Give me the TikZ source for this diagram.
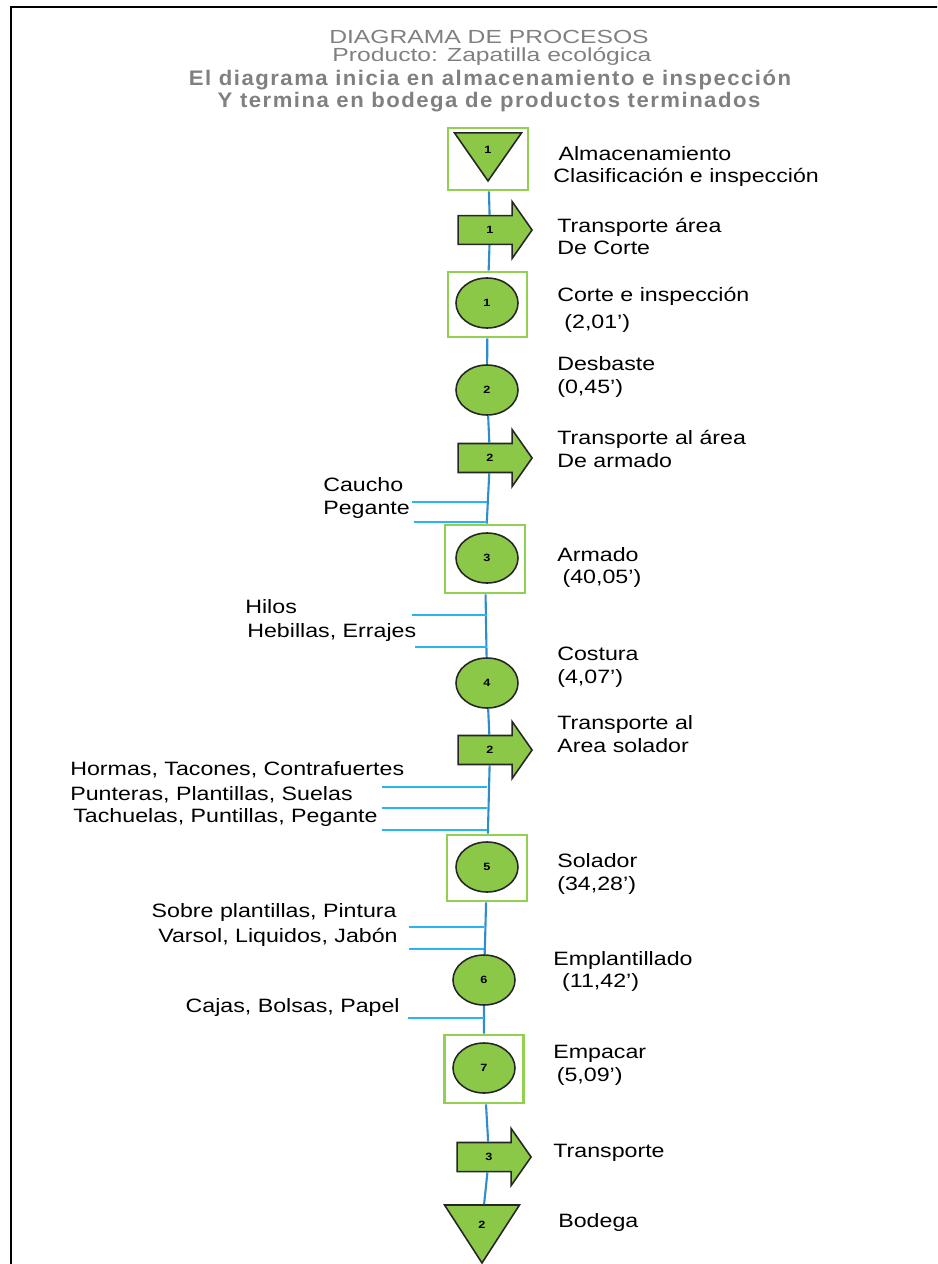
\documentclass[tikz,border=0pt]{standalone}
\usepackage{fontspec}
\setmainfont[FakeStretch = 1.2]{Liberation Sans}
\newfontfamily\titlefont[FakeStretch = 1.3]{Liberation Sans}
\newfontfamily\titlewide[FakeStretch = 1.05, LetterSpace = 7]{Liberation Sans}
\usetikzlibrary{shapes.geometric, shapes.arrows}

\definecolor{boxgreen}{RGB}{146, 208, 80}
\definecolor{shapegreen}{RGB}{140, 200, 72}
\definecolor{spineblue}{RGB}{48, 140, 205}
\definecolor{supplyblue}{RGB}{40, 180, 240}
\definecolor{titlegray}{RGB}{128, 128, 128}

\begin{document}
\begin{tikzpicture}[x = 0.02cm, y = -0.02cm,
	every node/.style = {font = \fontsize{11}{13}\selectfont},
	framebox/.style = {draw = boxgreen, line width = 1.5pt, inner sep = 0},
	oper/.style = {ellipse, draw = black!85, fill = shapegreen, line width = 0.9pt, minimum width = 1.24cm, minimum height = 1cm, inner sep = 0, font = \fontsize{6}{6}\selectfont\bfseries},
	transp/.style = {single arrow, draw = black!85, fill = shapegreen, line width = 0.9pt, minimum height = 1.48cm, inner xsep = 0, inner ysep = 0.2cm, single arrow head extend = 0.28cm, single arrow tip angle = 110, font = \fontsize{6}{6}\selectfont\bfseries},
	store/.style = {isosceles triangle, isosceles triangle stretches, shape border rotate = 270, draw = black!85, fill = shapegreen, line width = 0.9pt, minimum width = 1.34cm, minimum height = 0.96cm, inner sep = 0, font = \fontsize{6}{6}\selectfont\bfseries},
	spine/.style = {spineblue, line width = 1.2pt},
	supply/.style = {supplyblue, line width = 1.4pt},
	desc/.style = {anchor = west, align = left, inner sep = 0},
	mat/.style = {anchor = west, inner sep = 0}]
	 \useasboundingbox (0, 0) rectangle (937, 1264);
	 \clip (0, 0) rectangle (937, 1264);
	 \draw[line width = 1.6pt] (11, 7) rectangle (990, 1300);
	 
	 % titulo
	 \node[titlegray] (tit1) at (489, 37) {\titlefont\fontsize{10.8}{12}\selectfont DIAGRAMA DE PROCESOS};
	 \node[titlegray] (tit2) at (492, 56) {\titlefont\fontsize{10.8}{12}\selectfont Producto: Zapatilla ecológica};
	 \node[titlegray] (tit3) at (490, 80) {\titlewide\bfseries\fontsize{12}{14}\selectfont El diagrama inicia en almacenamiento e inspección};
	 \node[titlegray] (tit4) at (489, 102) {\titlewide\bfseries\fontsize{12}{14}\selectfont Y termina en bodega de productos terminados};
	 
	 % simbolos
	 \node[framebox, minimum width = 1.6cm, minimum height = 1.24cm] (alm1box) at (488, 159) {};
	 \node[store, anchor = apex] (alm1) at (488, 183) {1};
	 \node[transp] (tr1) at (490, 230) {1};
	 \node[framebox, minimum width = 1.58cm, minimum height = 1.3cm] (op1box) at (487.5, 304.5) {};
	 \node[oper] (op1) at (487, 303) {1};
	 \node[oper] (op2) at (487, 390) {2};
	 \node[transp] (tr2) at (490, 458) {2};
	 \node[framebox, minimum width = 1.6cm, minimum height = 1.36cm] (op3box) at (485, 559) {};
	 \node[oper] (op3) at (487, 558) {3};
	 \node[oper] (op4) at (487, 683) {4};
	 \node[transp] (tr4) at (490, 750) {2};
	 \node[framebox, minimum width = 1.6cm, minimum height = 1.32cm] (op5box) at (487, 868) {};
	 \node[oper] (op5) at (487, 867) {5};
	 \node[oper] (op6) at (484, 980) {6};
	 \node[framebox, minimum width = 1.58cm, minimum height = 1.36cm] (op7box) at (484, 1069) {};
	 \node[oper] (op7) at (484, 1068) {7};
	 \node[transp] (tr3) at (489, 1157) {3};
	 \node[store, minimum width = 1.5cm, minimum height = 1.16cm, anchor = apex] (alm2) at (482, 1265) {2};
	 
	 \draw[spine] (alm1box) -- (tr1) -- (op1box) -- (op2) -- (tr2) -- (op3box) -- (op4) -- (tr4) -- (op5box) -- (op6) -- (op7box) -- (tr3) -- (alm2);
	 
	 % descripciones
	 \node[desc] (d1) at (553, 166.5) {\hspace{3pt}Almacenamiento\\Clasificación e inspección};
	 \node[desc] (d2) at (557, 236.5) {Transporte área\\De Corte};
	 \node[desc] (d3) at (557, 310) {Corte e inspección\\[2pt]\hspace{4pt}(2,01')};
	 \node[desc] (d4) at (557, 377) {Desbaste\\(0,45')};
	 \node[desc] (d5) at (557, 449) {Transporte al área\\De armado};
	 \node[desc] (d6) at (557, 567.5) {Armado\\\hspace{3pt}(40,05')};
	 \node[desc] (d7) at (557, 667) {Costura\\(4,07')};
	 \node[desc] (d8) at (557, 734) {Transporte al\\Area solador};
	 \node[desc] (d9) at (557, 874) {Solador\\(34,28')};
	 \node[desc] (d10) at (553, 971.5) {Emplantillado\\\hspace{5pt}(11,42')};
	 \node[desc] (d11) at (553, 1065.5) {Empacar\\\hspace{2pt}(5,09')};
	 \node[desc] (d12) at (553, 1153) {Transporte};
	 \node[desc] (d13) at (558, 1222) {Bodega};
	 
	 % materiales
	 \node[mat] (m1) at (323, 485) {Caucho};
	 \node[mat] (m2) at (323, 510) {Pegante};
	 \coordinate (s1) at (412, 502);
	 \coordinate (s2) at (414, 522);
	 \draw[supply] (s1) -- (s1 -| op3);
	 \draw[supply] (s2) -- (s2 -| op3);
	 
	 \node[mat] (m3) at (245, 607) {Hilos};
	 \node[mat] (m4) at (247, 632) {Hebillas, Errajes};
	 \coordinate (s3) at (412, 615);
	 \coordinate (s4) at (415, 647);
	 \draw[supply] (s3) -- (s3 -| op3);
	 \draw[supply] (s4) -- (s4 -| op3);
	 
	 \node[mat] (m5) at (70, 770) {Hormas, Tacones, Contrafuertes};
	 \node[mat] (m6) at (70, 795) {Punteras, Plantillas, Suelas};
	 \node[mat] (m7) at (73, 817) {Tachuelas, Puntillas, Pegante};
	 \coordinate (s5) at (382, 787);
	 \coordinate (s6) at (382, 808);
	 \coordinate (s7) at (382, 830);
	 \draw[supply] (s5) -- (s5 -| op5);
	 \draw[supply] (s6) -- (s6 -| op5);
	 \draw[supply] (s7) -- (s7 -| op5);
	 
	 \node[mat, anchor = east] (m8) at (397, 912) {Sobre plantillas, Pintura};
	 \node[mat, anchor = east] (m9) at (398, 937) {Varsol, Liquidos, Jabón};
	 \coordinate (s8) at (409, 927);
	 \coordinate (s9) at (409, 949);
	 \draw[supply] (s8) -- (s8 -| op6);
	 \draw[supply] (s9) -- (s9 -| op6);
	 
	 \node[mat, anchor = east] (m10) at (400, 1007) {Cajas, Bolsas, Papel};
	 \coordinate (s10) at (408, 1018);
	 \draw[supply] (s10) -- (s10 -| op7);
\end{tikzpicture}
\end{document}
